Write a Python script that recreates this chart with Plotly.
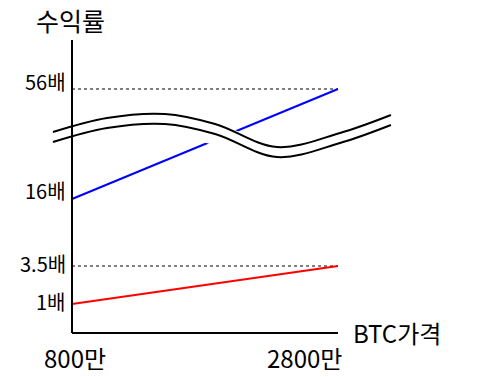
import plotly.graph_objects as go

# ---- data ----
x_prices = [800, 2800]                 # BTC price (만원)
x_tick_labels = ["800만", "2800만"]
y_tick_pos = [29, 67, 134, 244]        # schematic vertical positions
y_tick_labels = ["1배", "3.5배", "16배", "56배"]
blue_vals = [134, 244]                 # 16배 -> 56배
red_vals = [29, 67]                    # 1배 -> 3.5배
ref_levels = [244, 67]                 # dashed reference lines (56배, 3.5배)

# break symbol (decorative wave)
wave_x = [657, 1063, 1499, 1876, 2341, 2815, 3198]
wave_top = [201, 215, 219, 209, 186, 200, 218]
wave_gap = 10

FONT = "Noto Sans CJK KR, Noto Sans, sans-serif"

fig = go.Figure()

for lv in ref_levels:
    fig.add_trace(go.Scatter(x=x_prices, y=[lv, lv], mode="lines",
                             line=dict(color="black", width=1, dash="3px,3px"),
                             hoverinfo="skip", showlegend=False))

fig.add_trace(go.Scatter(x=x_prices, y=blue_vals, mode="lines",
                         line=dict(color="#0000ff", width=2), showlegend=False))
fig.add_trace(go.Scatter(x=x_prices, y=red_vals, mode="lines",
                         line=dict(color="#ff0000", width=2), showlegend=False))

wave_bot = [t - wave_gap for t in wave_top]

fig.add_trace(go.Scatter(x=wave_x, y=wave_bot, mode="lines",
                         line=dict(color="white", width=22, shape="spline"),
                         hoverinfo="skip", showlegend=False))
for yy in (wave_top, wave_bot):
    fig.add_trace(go.Scatter(x=wave_x, y=yy, mode="lines",
                             line=dict(color="black", width=2, shape="spline"),
                             hoverinfo="skip", showlegend=False))

fig.add_trace(go.Scatter(x=x_prices, y=[0, 0], mode="lines",
                         line=dict(color="black", width=2), showlegend=False))
fig.add_trace(go.Scatter(x=[x_prices[0], x_prices[0]], y=[0, 293], mode="lines",
                         line=dict(color="black", width=2), showlegend=False))

annotations = []
yshifts = [3, 3, 9, 8]
for pos, lab, ys in zip(y_tick_pos, y_tick_labels, yshifts):
    annotations.append(dict(x=x_prices[0], y=pos, text=lab, showarrow=False,
                            xanchor="right", yanchor="middle", xshift=-4, yshift=ys,
                            font=dict(family=FONT, size=20, color="black")))
annotations.append(dict(x=x_prices[0], y=-0.058, yref="paper", text=x_tick_labels[0],
                        showarrow=False, xanchor="center", yanchor="middle", xshift=3,
                        font=dict(family=FONT, size=24, color="black")))
annotations.append(dict(x=x_prices[1], y=-0.058, yref="paper", text=x_tick_labels[1],
                        showarrow=False, xanchor="right", yanchor="middle", xshift=6,
                        font=dict(family=FONT, size=24, color="black")))
annotations.append(dict(x=x_prices[1], y=0, text="BTC가격", showarrow=False,
                        xanchor="left", yanchor="middle", xshift=13, yshift=1,
                        font=dict(family=FONT, size=24, color="black")))
annotations.append(dict(x=785, y=1.032, yref="paper", text="수익률", showarrow=False,
                        xanchor="center", yanchor="middle",
                        font=dict(family=FONT, size=25, color="black")))

fig.update_layout(
    width=480, height=377,
    margin=dict(l=40, r=80, t=30, b=37),
    paper_bgcolor="white", plot_bgcolor="white",
    xaxis=dict(range=[559.4, 3266.2], visible=False, fixedrange=True),
    yaxis=dict(range=[-7, 303], visible=False, fixedrange=True),
    annotations=annotations,
    showlegend=False,
)

fig.write_html("out.html", config={"displayModeBar": False},
               post_script="document.body.style.margin='0';document.body.style.overflow='hidden';")
